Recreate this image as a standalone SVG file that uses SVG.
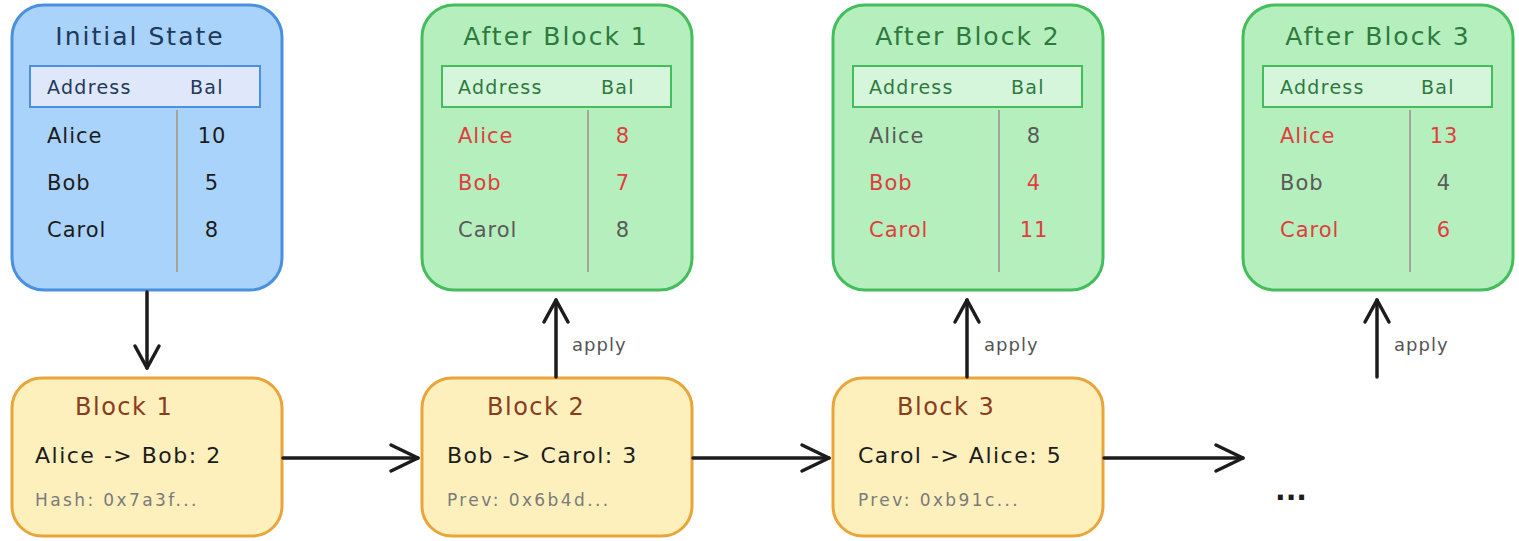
<svg xmlns="http://www.w3.org/2000/svg" width="1519" height="541" viewBox="0 0 1519 541">
  <defs>
    <style>
      text { font-family: "DejaVu Sans", "Liberation Sans", sans-serif; }
      .state-blue { fill: #a9d3fb; stroke: #4a8fe0; stroke-width: 3; }
      .state-green { fill: #b4efbd; stroke: #46bd5c; stroke-width: 3; }
      .hdr-blue { fill: #dfe7fb; stroke: #4a8fe0; stroke-width: 2; }
      .hdr-green { fill: #d6f6dc; stroke: #46bd5c; stroke-width: 2; }
      .block { fill: #fdf0bd; stroke: #eaa53a; stroke-width: 3; }
      .divider { stroke: #a8a39a; stroke-width: 2; }
      .title-blue { font-size: 25px; fill: #1f3a5c; text-anchor: middle; letter-spacing: 2px; }
      .title-green { font-size: 25px; fill: #2e7a3e; text-anchor: middle; letter-spacing: 2px; }
      .hdr-blue-t { font-size: 19px; fill: #22395a; letter-spacing: 1.3px; }
      .hdr-green-t { font-size: 19px; fill: #2e7a3e; letter-spacing: 1.3px; }
      .row { font-size: 21px; letter-spacing: 1px; }
      .dark { fill: #1c1c1c; }
      .red { fill: #e03e3e; }
      .grey { fill: #5a5a5a; }
      .num { text-anchor: middle; }
      .btitle { font-size: 24px; fill: #8a3c1c; letter-spacing: 1.5px; }
      .tx { font-size: 22px; fill: #1c1c1c; letter-spacing: 1.5px; }
      .hash { font-size: 17px; fill: #7a7a7a; letter-spacing: 2.4px; }
      .lbl { font-size: 18px; fill: #555555; letter-spacing: 1px; }
      .conn { stroke: #1c1c1c; stroke-width: 3.5; fill: none; stroke-linecap: round; }
      .head { stroke: #1c1c1c; stroke-width: 3.5; fill: none; stroke-linecap: round; stroke-linejoin: round; }
    </style>
  </defs>

  <!-- State tables -->
  <g id="initial-state">
    <rect class="state-blue" x="12" y="5" width="270" height="285" rx="32"/>
    <text class="title-blue" x="140" y="45">Initial State</text>
    <rect class="hdr-blue" x="30" y="66" width="230" height="41"/>
    <text class="hdr-blue-t" x="47" y="94">Address</text>
    <text class="hdr-blue-t" x="190" y="94">Bal</text>
    <line class="divider" x1="177" y1="110" x2="177" y2="272"/>
    <text class="row dark" x="47" y="143">Alice</text>
    <text class="row dark num" x="212" y="143">10</text>
    <text class="row dark" x="47" y="190">Bob</text>
    <text class="row dark num" x="212" y="190">5</text>
    <text class="row dark" x="47" y="237">Carol</text>
    <text class="row dark num" x="212" y="237">8</text>
  </g>

  <g id="after-block-1">
    <rect class="state-green" x="422" y="5" width="270" height="285" rx="32"/>
    <text class="title-green" x="556" y="45">After Block 1</text>
    <rect class="hdr-green" x="442" y="66" width="229" height="41"/>
    <text class="hdr-green-t" x="458" y="94">Address</text>
    <text class="hdr-green-t" x="601" y="94">Bal</text>
    <line class="divider" x1="588" y1="110" x2="588" y2="272"/>
    <text class="row red" x="458" y="143">Alice</text>
    <text class="row red num" x="623" y="143">8</text>
    <text class="row red" x="458" y="190">Bob</text>
    <text class="row red num" x="623" y="190">7</text>
    <text class="row grey" x="458" y="237">Carol</text>
    <text class="row grey num" x="623" y="237">8</text>
  </g>

  <g id="after-block-2">
    <rect class="state-green" x="833" y="5" width="270" height="285" rx="32"/>
    <text class="title-green" x="968" y="45">After Block 2</text>
    <rect class="hdr-green" x="853" y="66" width="229" height="41"/>
    <text class="hdr-green-t" x="869" y="94">Address</text>
    <text class="hdr-green-t" x="1011" y="94">Bal</text>
    <line class="divider" x1="999" y1="110" x2="999" y2="272"/>
    <text class="row grey" x="869" y="143">Alice</text>
    <text class="row grey num" x="1034" y="143">8</text>
    <text class="row red" x="869" y="190">Bob</text>
    <text class="row red num" x="1034" y="190">4</text>
    <text class="row red" x="869" y="237">Carol</text>
    <text class="row red num" x="1034" y="237">11</text>
  </g>

  <g id="after-block-3">
    <rect class="state-green" x="1243" y="5" width="270" height="285" rx="32"/>
    <text class="title-green" x="1378" y="45">After Block 3</text>
    <rect class="hdr-green" x="1263" y="66" width="229" height="41"/>
    <text class="hdr-green-t" x="1280" y="94">Address</text>
    <text class="hdr-green-t" x="1421" y="94">Bal</text>
    <line class="divider" x1="1410" y1="110" x2="1410" y2="272"/>
    <text class="row red" x="1280" y="143">Alice</text>
    <text class="row red num" x="1444" y="143">13</text>
    <text class="row grey" x="1280" y="190">Bob</text>
    <text class="row grey num" x="1444" y="190">4</text>
    <text class="row red" x="1280" y="237">Carol</text>
    <text class="row red num" x="1444" y="237">6</text>
  </g>

  <!-- Blocks -->
  <g id="block-1">
    <rect class="block" x="12" y="378" width="270" height="158" rx="30"/>
    <text class="btitle" x="75" y="415">Block 1</text>
    <text class="tx" x="35" y="463">Alice -&gt; Bob: 2</text>
    <text class="hash" x="35" y="506">Hash: 0x7a3f...</text>
  </g>

  <g id="block-2">
    <rect class="block" x="422" y="378" width="270" height="158" rx="30"/>
    <text class="btitle" x="487" y="415">Block 2</text>
    <text class="tx" x="447" y="463">Bob -&gt; Carol: 3</text>
    <text class="hash" x="447" y="506">Prev: 0x6b4d...</text>
  </g>

  <g id="block-3">
    <rect class="block" x="833" y="378" width="270" height="158" rx="30"/>
    <text class="btitle" x="897" y="415">Block 3</text>
    <text class="tx" x="858" y="463">Carol -&gt; Alice: 5</text>
    <text class="hash" x="858" y="506">Prev: 0xb91c...</text>
  </g>

  <g id="continuation">
    <text x="1275" y="500" font-size="28" font-weight="bold" fill="#1c1c1c">...</text>
  </g>

  <!-- Connectors -->
  <g id="connectors">
    <!-- initial state into block 1 -->
    <line class="conn" x1="147" y1="292" x2="147" y2="368"/>
    <polyline class="head" points="135,346 147,368 159,346"/>

    <!-- chain links -->
    <line class="conn" x1="283" y1="458" x2="418" y2="458"/>
    <polyline class="head" points="391,445 418,458 391,471"/>
    <line class="conn" x1="693" y1="458" x2="829" y2="458"/>
    <polyline class="head" points="802,445 829,458 802,471"/>
    <line class="conn" x1="1104" y1="458" x2="1243" y2="458"/>
    <polyline class="head" points="1216,445 1243,458 1216,471"/>

    <!-- apply arrows -->
    <line class="conn" x1="556" y1="377" x2="556" y2="300"/>
    <polyline class="head" points="544,322 556,300 568,322"/>
    <text class="lbl" x="572" y="351">apply</text>

    <line class="conn" x1="967" y1="377" x2="967" y2="300"/>
    <polyline class="head" points="955,322 967,300 979,322"/>
    <text class="lbl" x="984" y="351">apply</text>

    <line class="conn" x1="1377" y1="377" x2="1377" y2="300"/>
    <polyline class="head" points="1365,322 1377,300 1389,322"/>
    <text class="lbl" x="1394" y="351">apply</text>
  </g>
</svg>
